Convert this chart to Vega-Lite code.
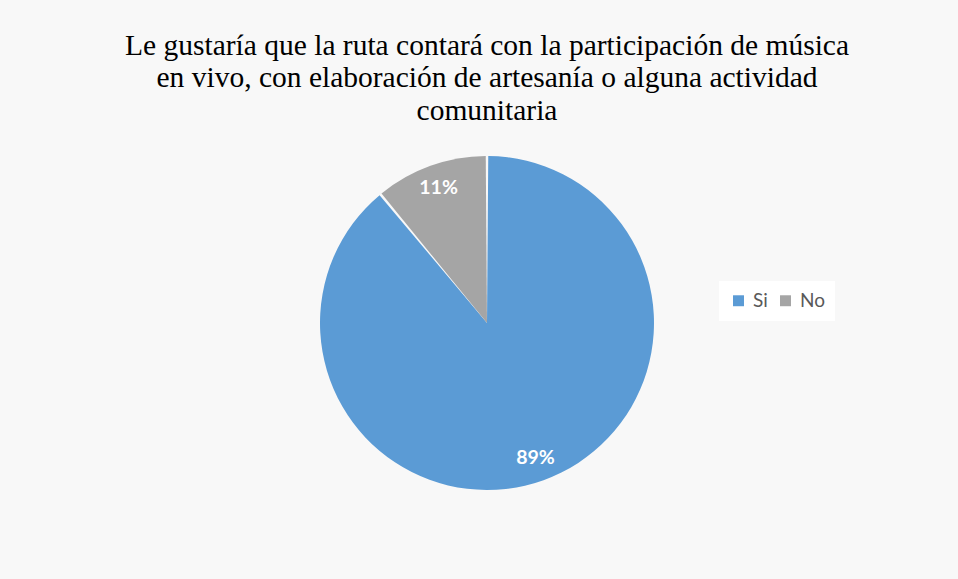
{
  "$schema": "https://vega.github.io/schema/vega-lite/v6.json",
  "autosize": "none",
  "width": 942,
  "height": 360,
  "padding": {"left": 16, "top": 143, "right": 0, "bottom": 76},
  "background": "#f8f8f8",
  "title": {
    "text": ["Le gustaría que la ruta contará con la participación de música", "en vivo, con elaboración de artesanía o alguna actividad", "comunitaria"],
    "font": "Liberation Serif",
    "fontSize": 29.5,
    "fontWeight": "normal",
    "color": "#000000",
    "lineHeight": 32.5,
    "anchor": "middle",
    "frame": "group",
    "offset": 17
  },
  "data": {
    "values": [
      {"categoria": "Si", "valor": 0.89, "orden": 1},
      {"categoria": "No", "valor": 0.11, "orden": 2}
    ]
  },
  "encoding": {
    "theta": {"field": "valor", "type": "quantitative", "stack": true},
    "order": {"field": "orden", "type": "quantitative"},
    "color": {
      "field": "categoria",
      "type": "nominal",
      "scale": {"domain": ["Si", "No"], "range": ["#5B9BD5", "#A5A5A5"]},
      "legend": {
        "title": null,
        "orient": "none",
        "direction": "horizontal",
        "legendX": 703,
        "legendY": 138,
        "fillColor": "#ffffff",
        "padding": 10,
        "symbolType": "square",
        "symbolSize": 120,
        "symbolStrokeWidth": 0,
        "labelFont": "Lato",
        "labelFontSize": 19,
        "labelColor": "#595959",
        "columnPadding": 8,
        "labelOffset": 5
      }
    }
  },
  "layer": [
    {"mark": {"type": "arc", "outerRadius": 167, "padAngle": 0.015}},
    {
      "mark": {"type": "text", "radius": 143, "font": "Lato", "fontSize": 19.5, "fontWeight": "bold", "fill": "#ffffff"},
      "encoding": {
        "text": {"field": "valor", "type": "quantitative", "format": ".0%"},
        "color": {"value": "#ffffff"}
      }
    }
  ],
  "config": {"view": {"stroke": null}}
}
